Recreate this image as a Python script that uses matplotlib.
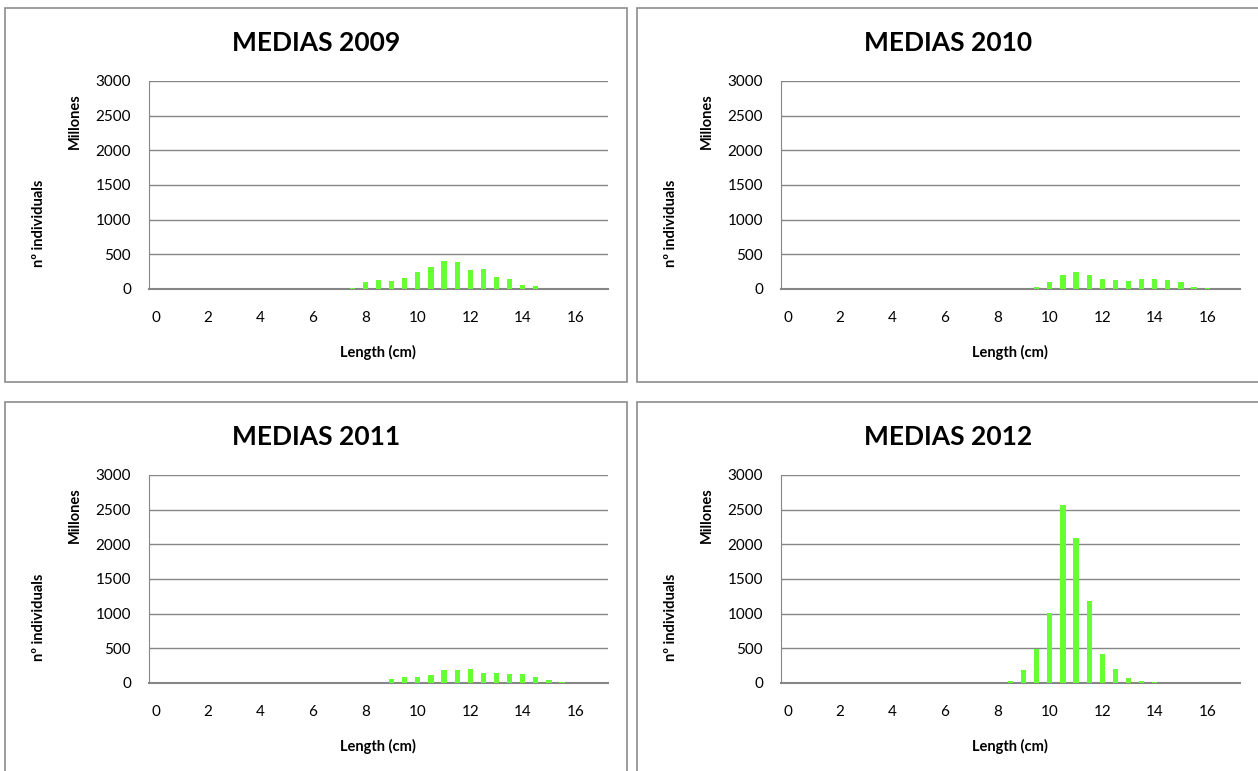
import numpy as np
import matplotlib
matplotlib.use('agg')
import matplotlib.pyplot as plt
from matplotlib.patches import Rectangle

plt.rcParams['font.family'] = ['Lato', 'DejaVu Sans']

# length classes (cm), one bar slot every 0.5 cm
lengths = np.arange(0, 17.5, 0.5)

# mean numbers per length class, millions
len_2009 = [7.5, 8, 8.5, 9, 9.5, 10, 10.5, 11, 11.5, 12, 12.5, 13, 13.5, 14, 14.5]
val_2009 = [20, 98, 127, 113, 157, 250, 314, 407, 392, 279, 294, 172, 142, 54, 39]

len_2010 = [9.5, 10, 10.5, 11, 11.5, 12, 12.5, 13, 13.5, 14, 14.5, 15, 15.5, 16]
val_2010 = [34, 98, 206, 250, 206, 142, 127, 113, 142, 142, 127, 98, 34, 20]

len_2011 = [9, 9.5, 10, 10.5, 11, 11.5, 12, 12.5, 13, 13.5, 14, 14.5, 15, 15.5]
val_2011 = [64, 83, 83, 113, 186, 186, 201, 142, 142, 127, 127, 83, 39, 20]

len_2012 = [8.5, 9, 9.5, 10, 10.5, 11, 11.5, 12, 12.5, 13, 13.5, 14]
val_2012 = [34, 193, 491, 1016, 2563, 2095, 1185, 419, 207, 72, 34, 19]

years = ['2009', '2010', '2011', '2012']
series = [(len_2009, val_2009), (len_2010, val_2010),
          (len_2011, val_2011), (len_2012, val_2012)]

W, H = 1258, 771
fig = plt.figure(figsize=(W / 100, H / 100), dpi=100)
fig.patch.set_facecolor('white')

green = '#66ff33'
gray = '#868686'


def fx(x):
    return x / W


def fy(y):
    return 1 - y / H


# panel offsets (pixels): column, row
offsets = [(0, 0), (632, 0), (0, 394), (632, 394)]

for (dx, dy), year, (xs, ys) in zip(offsets, years, series):
    # chart frame
    fig.patches.append(Rectangle((fx(5 + dx), fy(382 + dy)), fx(622), 374 / H,
                                 transform=fig.transFigure, fill=False,
                                 edgecolor='#8c8c8c', linewidth=1.2))

    ax = fig.add_axes([fx(149 + dx), fy(289 + dy), fx(459), 208 / H])
    full = np.zeros(len(lengths))
    for x, v in zip(xs, ys):
        full[int(round(x * 2))] = v
    ax.bar(lengths, full, width=0.2, color=green, zorder=3)

    ax.set_xlim(-0.25, 17.25)
    ax.set_ylim(0, 3000)
    ax.set_xticks(np.arange(0, 17, 2))
    ax.set_yticks(np.arange(0, 3001, 500))
    ax.yaxis.grid(True, color=gray, linewidth=1.0, zorder=0)
    ax.tick_params(length=0, labelsize=11, colors='black')
    ax.tick_params(axis='y', pad=13)
    ax.tick_params(axis='x', pad=16)
    for s in ['top', 'right']:
        ax.spines[s].set_visible(False)
    ax.spines['left'].set_color(gray)
    ax.spines['bottom'].set_color(gray)
    ax.spines['bottom'].set_linewidth(1.5)

    fig.text(fx(316 + dx), fy(43 + dy), 'MEDIAS ' + year, ha='center', va='center',
             fontsize=19, fontweight='bold')
    fig.text(fx(75 + dx), fy(121 + dy), 'Millones', rotation=90, ha='center',
             va='center', fontsize=10.5, fontweight='bold')
    fig.text(fx(39 + dx), fy(223 + dy), 'nº individuals', rotation=90, ha='center',
             va='center', fontsize=10.5, fontweight='bold')
    fig.text(fx(378 + dx), fy(352 + dy), 'Length (cm)', ha='center', va='center',
             fontsize=10.5, fontweight='bold')

fig.savefig('out.png', dpi=100, facecolor='white')
